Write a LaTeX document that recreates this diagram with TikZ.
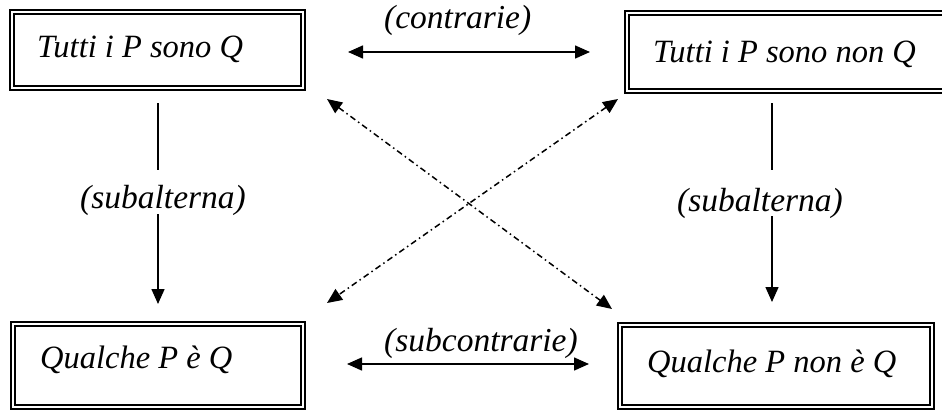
\documentclass[tikz,border=0pt]{standalone}
\usepackage{fontspec}
\setmainfont{Liberation Serif}
\usetikzlibrary{arrows.meta}
\begin{document}
\begin{tikzpicture}[x=1pt,y=-1pt,
  boxframe/.style={draw, line width=1.4pt, inner sep=0pt, rectangle},
  lbl/.style={font=\fontsize{32.5}{32.5}\selectfont\itshape, inner sep=0pt, anchor=base west},
  arrlbl/.style={font=\fontsize{33.5}{33.5}\selectfont\itshape, inner sep=0pt, anchor=base west},
  tip/.tip={Triangle[length=15pt,width=13pt]},
  plain/.style={line width=1.5pt},
  conn/.style={line width=1.5pt, -tip},
  both/.style={line width=1.5pt, tip-tip},
  dashdot/.style={line width=1.5pt, dash pattern=on 6pt off 3.5pt on 1.5pt off 3.5pt, tip-tip}
]
\useasboundingbox (0,0) rectangle (942,410);
\clip (0,0) rectangle (942,410);

% boxes
\node[boxframe, minimum width=295pt, minimum height=80pt] (tl) at (157.5,50) {};
\node[boxframe, minimum width=330pt, minimum height=82pt] (tr) at (790,52) {};
\node[boxframe, minimum width=294pt, minimum height=87pt] (bl) at (158,365.5) {};
\node[boxframe, minimum width=316pt, minimum height=86pt] (br) at (776,366) {};
\foreach \b in {tl,tr,bl,br}{
  \draw[line width=1.7pt] ([xshift=4.5pt,yshift=-4.5pt]\b.north west) rectangle ([xshift=-4.5pt,yshift=4.5pt]\b.south east);
}

% box texts
\node[lbl] (tlt) at (37,57) {Tutti i P sono Q};
\node[lbl] (trt) at (653,62) {Tutti i P sono non Q};
\node[lbl] (blt) at (40,368) {Qualche P è Q};
\node[lbl] (brt) at (647,372) {Qualche P non è Q};

% labels
\node[arrlbl] (contr) at (384,28) {(contrarie)};
\node[arrlbl] (subcontr) at (384,351) {(subcontrarie)};
\node[arrlbl] (subL) at (80,208) {(subalterna)};
\node[arrlbl] (subR) at (677,211) {(subalterna)};

% connector end points
\coordinate (c1) at (348,52);
\coordinate (c2) at (590,52);
\coordinate (s1) at (347,364);
\coordinate (s2) at (589,364);
\coordinate (l1) at (158,103);
\coordinate (l2) at (158,170);
\coordinate (l3) at (158,214);
\coordinate (l4) at (158,304);
\coordinate (r1) at (772,103);
\coordinate (r2) at (772,170);
\coordinate (r3) at (772,216);
\coordinate (r4) at (772,302);
\coordinate (d1) at (327,99);
\coordinate (d2) at (612,309);
\coordinate (d3) at (618,99);
\coordinate (d4) at (327,303);

\draw[both] (c1) -- (c2);
\draw[both] (s1) -- (s2);
\draw[plain] (l1) -- (l2);
\draw[conn] (l3) -- (l4);
\draw[plain] (r1) -- (r2);
\draw[conn] (r3) -- (r4);
\draw[dashdot] (d1) -- (d2);
\draw[dashdot] (d3) -- (d4);
\end{tikzpicture}
\end{document}
